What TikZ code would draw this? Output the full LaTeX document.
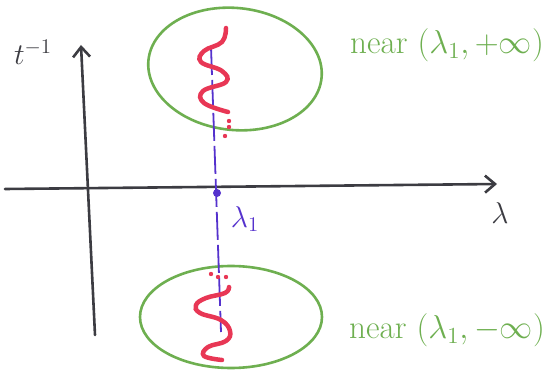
\documentclass[tikz,border=0pt]{standalone}
\usetikzlibrary{arrows.meta}
\definecolor{axisgray}{RGB}{60,60,66}
\definecolor{blobgreen}{RGB}{110,175,80}
\definecolor{wavered}{RGB}{232,55,85}
\definecolor{lineblue}{RGB}{85,50,205}
\tikzset{
  axis/.style={draw=axisgray, line width=2.6pt, line cap=round, -{Straight Barb[length=10pt,width=17pt,line width=2.6pt]}},
  blob/.style={draw=blobgreen, line width=2.6pt},
  wave/.style={draw=wavered, line width=4.5pt, line cap=round},
  dotred/.style={fill=wavered},
  bluedash/.style={draw=lineblue, line width=1.8pt, dash pattern=on 28pt off 5pt},
  greenlabel/.style={text=blobgreen, font=\huge, inner sep=0pt, scale=1.6, transform shape},
  axlabel/.style={text=axisgray, font=\huge, inner sep=0pt, scale=1.45, transform shape}
}
\begin{document}
\begin{tikzpicture}[x=1pt,y=-1pt]
\useasboundingbox (0,0) rectangle (559,371);
% axes
\coordinate (hx0) at (5,189);
\coordinate (hx1) at (497,184);
\coordinate (vy0) at (95,335);
\coordinate (vy1) at (81,45);
\draw[axis] (hx0) -- (hx1);
\draw[axis] (vy0) -- (vy1);
\node[axlabel] (tinv) at (33,52) {$t^{-1}$};
\node[axlabel] (lam) at (500,213) {$\lambda$};
% blobs
\draw[blob] (235,69) ellipse [x radius=87pt, y radius=61pt, rotate=-6];
\draw[blob] (231,317) ellipse [x radius=91pt, y radius=51pt];
% blue dashed line
\coordinate (bl0) at (211,47);
\coordinate (bl1) at (221,332);
\draw[bluedash] (bl0) -- (bl1);
\node[circle, fill=lineblue, inner sep=0pt, minimum size=8pt] (l1dot) at (217,193) {};
\node[axlabel, text=lineblue] (l1) at (245,219) {$\lambda_1$};
% red waves
\draw[wave] plot[smooth, tension=0.7] coordinates {(226,28) (222,42) (204,51) (201,62) (222,71) (226,82) (203,91) (204,103) (228,112)};
\draw[wave] plot[smooth, tension=0.7] coordinates {(229,287) (225,293) (206,298) (196,305) (200,313) (221,320) (230,331) (226,341) (208,347) (204,356) (222,360)};
\fill[dotred] (229,121) circle (2.2pt);
\fill[dotred] (229,127) circle (2.2pt);
\fill[dotred] (225,136) circle (2.2pt);
\fill[dotred] (211,274) circle (2.2pt);
\fill[dotred] (218,277) circle (2.2pt);
\fill[dotred] (226,277) circle (2.2pt);
% labels
\node[greenlabel] (nplus) at (447,45) {near $(\lambda_1,+\infty)$};
\node[greenlabel] (nminus) at (447,330) {near $(\lambda_1,-\infty)$};
\end{tikzpicture}
\end{document}
